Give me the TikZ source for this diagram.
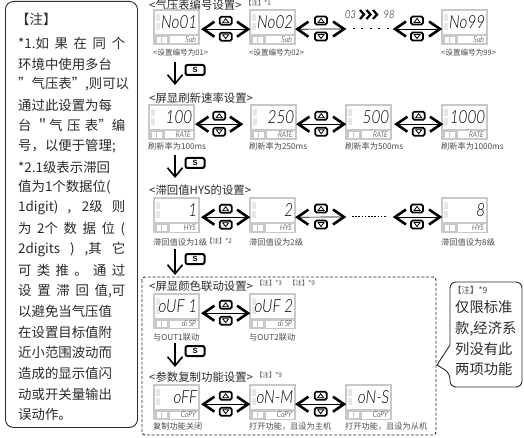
\documentclass[tikz,border=0pt]{standalone}
\usepackage{fontspec}
\setmainfont{Noto Sans CJK SC}
\newfontfamily\segfont{Lato Light}
\newfontfamily\keyfont{Liberation Sans}
\XeTeXlinebreaklocale "zh"
\XeTeXlinebreakskip=0pt plus 30pt
\usetikzlibrary{arrows.meta,calc}
\definecolor{tx}{HTML}{2A2A2A}
\definecolor{fr}{HTML}{C8C8C8}
\tikzset{
 x=1pt,y=-1pt,
 notetxt/.style={anchor=west,inner sep=0,font=\fontsize{13.4}{14}\selectfont,text=tx},
 headtxt/.style={anchor=west,inner sep=0,font=\fontsize{11.4}{12}\selectfont,text=tx},
 captxt/.style={anchor=west,inner sep=0,font=\fontsize{8.2}{9}\selectfont,text=tx!85},
 captop/.style={anchor=west,inner sep=0,font=\fontsize{7.6}{9}\selectfont,text=tx!85},
 tagtxt/.style={anchor=west,inner sep=0,font=\fontsize{6.4}{7}\selectfont,text=tx!85},
 sidetxt/.style={anchor=west,inner sep=0,font=\fontsize{14.3}{15}\selectfont,text=tx},
 keybox/.style={draw=black,line width=1.7pt,fill=white,rounded corners=1.6pt,minimum width=12pt,minimum height=8pt,inner sep=0},
 skey/.style={draw=black,line width=2pt,fill=white,rounded corners=2pt,minimum width=19pt,minimum height=10pt,inner sep=0,font=\keyfont\fontsize{7.5}{7.5}\bfseries\selectfont},
 dbl/.style={line width=.7pt,black},
 chev/.style={line width=2.6pt,black,line cap=butt,line join=miter},
 sarrow/.style={line width=1.1pt,black,-{Straight Barb[length=9pt,width=15pt,line width=1.6pt]}},
 devbox/.style={draw=none,fill=fr,minimum width=47pt,minimum height=36pt,inner sep=0},
}
\newcommand{\seg}[1]{\scalebox{.85}[1]{\segfont\itshape #1}}
% name, x, y, display, label
\newcommand{\dev}[5]{%
 \node[devbox,anchor=north west] (#1) at (#2,#3) {};
 \fill[white] (#2+2,#3+2) rectangle (#2+45,#3+25);
 \fill[fr!45] (#2+3,#3+5) rectangle (#2+7,#3+12);
 \fill[fr!45] (#2+3,#3+14) rectangle (#2+7,#3+21);
 \fill[white] (#2+3.5,#3+28) rectangle (#2+8,#3+34);
 \fill[white] (#2+9,#3+28) rectangle (#2+14,#3+34);
 \fill[white] (#2+17,#3+27.5) rectangle (#2+45,#3+34.5);
 \node[inner sep=0,anchor=east,font=\fontsize{18}{18}\selectfont] (#1d) at (#2+44.5,#3+13.5) {\seg{#4}};
 \node[inner sep=0,anchor=east,font=\fontsize{8}{8}\selectfont] (#1l) at (#2+43,#3+31) {\seg{#5}};
}
\newcommand{\updown}[5]{%
 \path (#1.east) ++(#3,2) coordinate (#1a);
 \path (#2.west) ++(#4,2) coordinate (#2a);
 \draw[dbl] (#1a) -- (#2a);
 \draw[chev] ($(#1a)+(11,-7.5)$) -- (#1a) -- ($(#1a)+(11,7.5)$);
 \draw[chev] ($(#2a)+(-11,-7.5)$) -- (#2a) -- ($(#2a)+(-11,7.5)$);
 \node[keybox] (#5u) at ($(#1a)!.5!(#2a)+(0,-8.5)$) {};
 \node[keybox] (#5v) at ($(#1a)!.5!(#2a)+(0,7.5)$) {};
 \draw[line width=.8pt] ($(#5u)+(-3,2)$) -- ($(#5u)+(0,-2)$) -- ($(#5u)+(3,2)$) -- cycle;
 \draw[line width=.8pt] ($(#5v)+(-3,-2)$) -- ($(#5v)+(0,2)$) -- ($(#5v)+(3,-2)$) -- cycle;
}
\newcommand{\sdown}[4]{% name, top y, tip y, key y
 \coordinate (#1t) at (175,#2);
 \coordinate (#1b) at (175,#3);
 \draw[sarrow] (#1t) -- (#1b);
 \node[skey] (#1k) at (195,#4) {S};
}
\newcommand{\nl}[2]{\node[notetxt] at (18,#1) {\makebox[107pt][s]{#2}};}
\begin{document}
\begin{tikzpicture}
\useasboundingbox (0,0) rectangle (524,438);
\clip (0,0) rectangle (524,438);
% left note
\node[draw=tx,line width=.9pt,rounded corners=8pt,minimum width=132pt,minimum height=426pt,anchor=north west,inner sep=0] (leftnote) at (5,1) {};
\node[notetxt] at (16,19) {【注】};
\nl{43}{*1.如 果 在 同 个}
\nl{64}{环境中使用多台}
\nl{84.5}{"气压表",则可以}
\nl{105}{通过此设置为每}
\nl{125.5}{台 ＂气 压 表"编}
\nl{146}{号，以便于管理;}
\nl{167}{*2.1级表示滞回}
\nl{187.5}{值为1个数据位(}
\nl{208}{1digit) , 2级 则}
\nl{229}{为 2个 数 据 位 (}
\nl{249}{2digits ) ,其 它}
\nl{270}{可 类 推 。 通 过}
\nl{291}{设 置 滞 回 值,可}
\nl{311}{以避免当气压值}
\nl{332}{在设置目标值附}
\nl{352}{近小范围波动而}
\nl{373}{造成的显示值闪}
\nl{394}{动或开关量输出}
\node[notetxt] at (18,414) {误动作。};
% dashed group
\draw[line width=.9pt,rounded corners=3pt,dash pattern=on 3pt off 1.8pt,tx] (142,277) rectangle (436,435);
% row 1
\node[headtxt] (h1) at (149,5) {<气压表编号设置>};
\node[tagtxt] at (245,3.5) {【注】*1};
\dev{a}{153}{9}{No01}{Sub}
\dev{b}{249}{9}{No02}{Sub}
\dev{c}{441}{9}{No99}{Sub}
\coordinate (ce) at (395,29);
\updown{a}{b}{3}{-1}{ka}
\path (b.east) ++(1,2) coordinate (bs);
\coordinate (m1) at (344,29);
\draw[dbl] (bs) -- (m1);
\draw[chev] ($(bs)+(11,-7.5)$) -- (bs) -- ($(bs)+(11,7.5)$);
\draw[chev] ($(m1)+(-11,-7.5)$) -- (m1) -- ($(m1)+(-11,7.5)$);
\node[keybox] (kbu) at (321,20.5) {};
\node[keybox] (kbv) at (321,36.5) {};
\draw[line width=.8pt] (318,22.5) -- (321,18.5) -- (324,22.5) -- cycle;
\draw[line width=.8pt] (318,34.5) -- (321,38.5) -- (324,34.5) -- cycle;
\draw[line width=1pt,dash pattern=on 2pt off 6.5pt] (m1) -- (ce);
\draw[chev] (406,21.5) -- (395,29) -- (406,36.5);
\draw[chev] (429,21.5) -- (440,29) -- (429,36.5);
\draw[dbl] (395,29) -- (440,29);
\node[keybox] (kcu) at (417,20.5) {};
\node[keybox] (kcv) at (417,36.5) {};
\draw[line width=.8pt] (414,22.5) -- (417,18.5) -- (420,22.5) -- cycle;
\draw[line width=.8pt] (414,34.5) -- (417,38.5) -- (420,34.5) -- cycle;
\node[inner sep=0,font=\fontsize{11}{11}\selectfont] (n03) at (350.5,14.5) {\seg{03}};
\node[inner sep=0,font=\fontsize{11}{11}\selectfont] (n98) at (389,14.5) {\seg{98}};
\foreach \xx in {360,366.5,373}{\draw[line width=2.2pt] (\xx,10) -- (\xx+4,14.5) -- (\xx,19);}
\node[captop] at (153,52.5) {<设置编号为01>};
\node[captop] at (249,52.5) {<设置编号为02>};
\node[captop] at (441,52.5) {<设置编号为99>};
\sdown{s1}{62}{85}{70}
% row 2
\node[headtxt] (h2) at (149,98) {<屏显刷新速率设置>};
\dev{d}{148}{104}{100}{RATE}
\dev{e}{250}{104}{250}{RATE}
\dev{f}{345}{104}{500}{RATE}
\dev{g}{441}{104}{1000}{RATE}
\updown{d}{e}{2}{-9}{kd}
\updown{e}{f}{1}{-1}{ke}
\updown{f}{g}{4}{0}{kf}
\node[captxt] at (148,146) {刷新率为100ms};
\node[captxt] at (249,146) {刷新率为250ms};
\node[captxt] at (345,146) {刷新率为500ms};
\node[captxt] at (441,146) {刷新率为1000ms};
\sdown{s2}{155}{178}{163}
% row 3
\node[headtxt] (h3) at (149,190) {<滞回值HYS的设置>};
\dev{p}{153}{197}{1}{HYS}
\dev{q}{249}{197}{2}{HYS}
\dev{r}{441}{197}{8}{HYS}
\updown{p}{q}{3}{-1}{kp}
\coordinate (m3) at (344,217);
\path (q.east) ++(1,2) coordinate (qs);
\draw[dbl] (qs) -- (m3);
\draw[chev] ($(qs)+(11,-7.5)$) -- (qs) -- ($(qs)+(11,7.5)$);
\draw[chev] (333,209.5) -- (344,217) -- (333,224.5);
\node[keybox] (kqu) at (321,208.5) {};
\node[keybox] (kqv) at (321,224.5) {};
\draw[line width=.8pt] (318,210.5) -- (321,206.5) -- (324,210.5) -- cycle;
\draw[line width=.8pt] (318,222.5) -- (321,226.5) -- (324,222.5) -- cycle;
\coordinate (dots3a) at (352,217);
\coordinate (dots3b) at (386,217);
\draw[line width=1pt,dash pattern=on 1.5pt off 1.7pt] (dots3a) -- (dots3b);
\draw[dbl] (395,217) -- (440,217);
\draw[chev] (406,209.5) -- (395,217) -- (406,224.5);
\draw[chev] (429,209.5) -- (440,217) -- (429,224.5);
\node[keybox] (kru) at (417,208.5) {};
\node[keybox] (krv) at (417,224.5) {};
\draw[line width=.8pt] (414,210.5) -- (417,206.5) -- (420,210.5) -- cycle;
\draw[line width=.8pt] (414,222.5) -- (417,226.5) -- (420,222.5) -- cycle;
\node[captxt] at (153,242) {滞回值设为1级};
\node[tagtxt] at (206,241) {【注】*2};
\node[captxt] at (249,242) {滞回值设为2级};
\node[captxt] at (441,242) {滞回值设为8级};
\sdown{s3}{249}{275}{259}
% row 4
\node[headtxt] (h4) at (149,286) {<屏显颜色联动设置>};
\node[tagtxt] at (256,283) {【注】*3};
\node[tagtxt] at (289,283) {【注】*9};
\dev{t}{153}{293}{oUF 1}{di SP}
\dev{u}{249}{293}{oUF 2}{di SP}
\updown{t}{u}{3}{-1}{kt}
\node[captxt] at (153,337) {与OUT1联动};
\node[captxt] at (249,337) {与OUT2联动};
\sdown{s4}{343}{367}{351}
% row 5
\node[headtxt] (h5) at (149,377) {<参数复制功能设置>};
\node[tagtxt] at (256,375) {【注】*9};
\dev{v}{153}{384}{oFF}{CoPY}
\dev{w}{249}{384}{oN-M}{CoPY}
\dev{y}{345}{384}{oN-S}{CoPY}
\updown{v}{w}{3}{-1}{kv}
\updown{w}{y}{1}{-1}{kw}
\node[captxt] at (153,426) {复制功能关闭};
\node[captxt] at (249,426) {打开功能，且设为主机};
\node[captxt] at (345,426) {打开功能，且设为从机};
% right note
\draw[tx,line width=.9pt,fill=white,rounded corners=6pt] (522,282) -- (522,387) -- (450,387) -- (450,373) [sharp corners] -- (437,365) -- (450,345) [rounded corners=6pt] -- (450,282) -- cycle;
\node[tagtxt,font=\fontsize{8.5}{9}\selectfont] at (453,290) {【注】*9};
\node[sidetxt] at (455,307) {仅限标准};
\node[sidetxt] at (455,329) {款,经济系};
\node[sidetxt] at (455,349.5) {列没有此};
\node[sidetxt] at (455,369.5) {两项功能};
\end{tikzpicture}
\end{document}
